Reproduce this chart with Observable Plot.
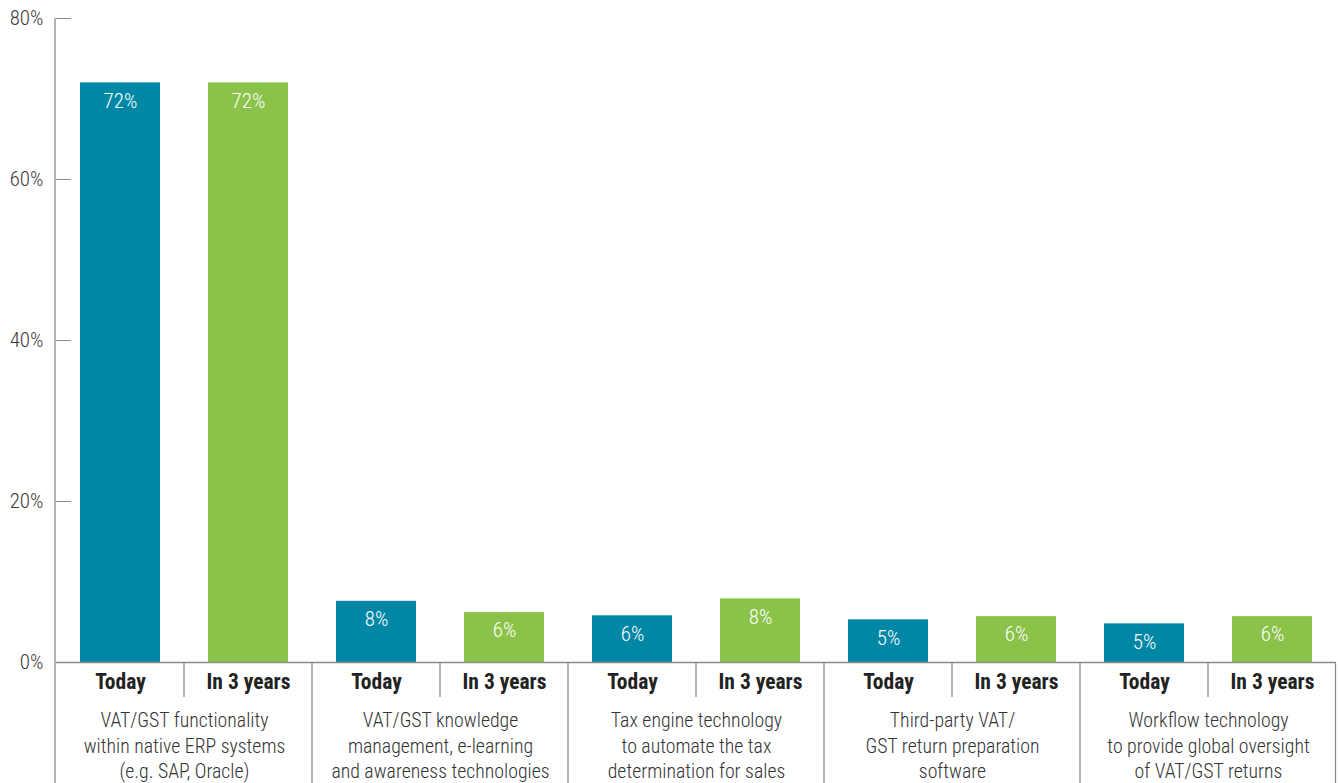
<!DOCTYPE html>
<html><head><meta charset="utf-8">
<script src="https://cdn.jsdelivr.net/npm/d3@7"></script>
<script src="https://cdn.jsdelivr.net/npm/@observablehq/plot@0.6"></script>
<style>
body{margin:0;background:#fff;}
#chart svg{display:block;}
</style></head><body><div id="chart"></div>
<script>
const groups = [
  "VAT/GST functionality\nwithin native ERP systems\n(e.g. SAP, Oracle)",
  "VAT/GST knowledge\nmanagement, e-learning\nand awareness technologies",
  "Tax engine technology\nto automate the tax\ndetermination for sales",
  "Third-party VAT/\nGST return preparation\nsoftware",
  "Workflow technology\nto provide global oversight\nof VAT/GST returns"
];
const periods = ["Today", "In 3 years"];
const todayValues = [72, 7.6, 5.8, 5.3, 4.8];
const in3Values = [72, 6.2, 7.9, 5.7, 5.7];
const todayLabels = ["72%", "8%", "6%", "5%", "5%"];
const in3Labels = ["72%", "6%", "8%", "6%", "6%"];
const yTicks = [0, 20, 40, 60, 80];
const colors = ["#0087a5", "#8bc34a"];

const rows = groups.flatMap((g, i) => [
  {group: g, period: periods[0], value: todayValues[i], label: todayLabels[i]},
  {group: g, period: periods[1], value: in3Values[i], label: in3Labels[i]}
]);

const FONT = '"Liberation Sans Narrow","Roboto Condensed","DejaVu Sans Condensed","Arial Narrow",sans-serif';
const LINE = "#8a8a8a";
const W = 1338, H = 783;

const plot = Plot.plot({
  width: W, height: H,
  marginLeft: 55, marginRight: 1, marginTop: 18, marginBottom: 121,
  style: {fontFamily: FONT, color: "#3a3a3a", background: "#fff", overflow: "visible"},
  fx: {domain: groups, padding: 0, axis: null, label: null},
  x: {domain: periods, paddingInner: 0.376, paddingOuter: 0.188, axis: null, label: null},
  y: {domain: [0, 80], axis: null, label: null},
  color: {domain: periods, range: colors},
  marks: [
    Plot.barY(rows, {fx: "group", x: "period", y: "value", fill: "period"}),
    Plot.text(rows, {fx: "group", x: "period", y: "value", text: "label", dy: 18, fill: "white", fontSize: 21, fontWeight: 300}),
    Plot.ruleY([0], {stroke: LINE, strokeWidth: 1.3}),
    Plot.axisY({ticks: yTicks, tickFormat: d => d + "%", tickSize: -15, tickPadding: 28, fontSize: 21, fontWeight: 300, stroke: LINE, fill: "#3a3a3a", label: null}),
    Plot.axisX({tickSize: 0, tickPadding: 11, fontSize: 21.5, fontWeight: "bold", fill: "#222", label: null}),
    Plot.text(groups, {fx: d => d, text: d => d, frameAnchor: "bottom", lineAnchor: "top", dy: 46, fontSize: 19.8, fontWeight: 300, lineHeight: 1.3, fill: "#333"})
  ]
});

document.getElementById("chart").appendChild(plot);

// separator lines, positioned via Plot's own scales
const fx = plot.scale("fx");
const xs = plot.scale("x");
const ys = plot.scale("y");
const y0 = ys.apply(0);
const g = d3.select(plot).append("g").attr("stroke", LINE).attr("stroke-width", 1.3);
// y axis line
g.append("line").attr("x1", fx.range[0]).attr("x2", fx.range[0]).attr("y1", ys.apply(80)).attr("y2", H);
// group separators
const fxBand = fx.bandwidth;
const xOff = xs.range[0];
groups.forEach((grp, i) => {
  const left = fx.apply(grp);
  if (i > 0) g.append("line").attr("x1", left).attr("x2", left).attr("y1", y0).attr("y2", H);
  const mid = left + (xs.apply(periods[0]) + xs.apply(periods[1]) + xs.bandwidth) / 2 - xOff;
  g.append("line").attr("x1", mid).attr("x2", mid).attr("y1", y0).attr("y2", y0 + 35);
});
const last = fx.apply(groups[groups.length - 1]) + fxBand;
g.append("line").attr("x1", last - 0.5).attr("x2", last - 0.5).attr("y1", y0).attr("y2", H);
</script></body></html>
